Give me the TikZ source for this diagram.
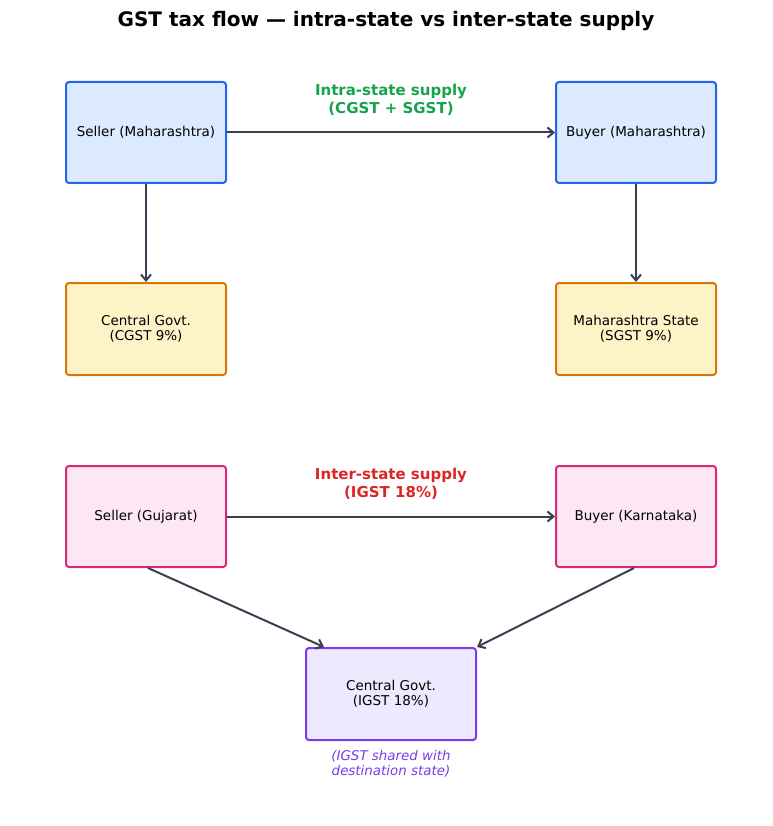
\documentclass[tikz,border=0pt]{standalone}
\usepackage{fontspec}
\setmainfont{DejaVu Sans}
\usepackage{xcolor}
\usetikzlibrary{arrows.meta,positioning,calc}

\definecolor{edgegray}{HTML}{374151}
\definecolor{blueline}{HTML}{2563EB}
\definecolor{bluefill}{HTML}{DBEAFE}
\definecolor{orangeline}{HTML}{D97706}
\definecolor{orangefill}{HTML}{FEF3C7}
\definecolor{pinkline}{HTML}{DB2777}
\definecolor{pinkfill}{HTML}{FCE7F3}
\definecolor{purpleline}{HTML}{7C3AED}
\definecolor{purplefill}{HTML}{EDE9FE}
\definecolor{greentext}{HTML}{16A34A}
\definecolor{redtext}{HTML}{DC2626}

\begin{document}
\begin{tikzpicture}[x=1pt,y=-1pt,
		box/.style={draw, rounded corners=3pt, line width=2pt, minimum width=160pt, align=center, font=\fontsize{13.5}{15.5}\selectfont},
		tall/.style={box, minimum height=101pt},
		short/.style={box, minimum height=92pt},
		flow/.style={draw=edgegray, line width=2pt, -{Straight Barb[length=6pt,width=10pt,line width=2pt]}},
		tag/.style={font=\bfseries\fontsize{15}{17.5}\selectfont, align=center}]
		\useasboundingbox (0,0) rectangle (772,826);

		\node[font=\bfseries\fontsize{20}{24}\selectfont] (title) at (386,21) {GST tax flow — intra-state vs inter-state supply};

		% intra-state
		\node[tall, draw=blueline, fill=bluefill] (sm) at (146,132.5) {Seller (Maharashtra)};
		\node[tall, draw=blueline, fill=bluefill] (bm) at (636,132.5) {Buyer (Maharashtra)};
		\node[short, draw=orangeline, fill=orangefill] (cgst) at (146,329) {Central Govt.\\(CGST 9\%)};
		\node[short, draw=orangeline, fill=orangefill] (sgst) at (636,329) {Maharashtra State\\(SGST 9\%)};
		\node[tag, text=greentext] (intra) at (391,100) {Intra-state supply\\(CGST + SGST)};

		\draw[flow] (sm) -- (bm);
		\draw[flow] (sm) -- (cgst);
		\draw[flow] (bm) -- (sgst);

		% inter-state
		\node[tall, draw=pinkline, fill=pinkfill] (sg) at (146,516.5) {Seller (Gujarat)};
		\node[tall, draw=pinkline, fill=pinkfill] (bk) at (636,516.5) {Buyer (Karnataka)};
		\node[short, draw=purpleline, fill=purplefill, minimum width=170pt] (igst) at (391,694) {Central Govt.\\(IGST 18\%)};
		\node[tag, text=redtext] (inter) at (391,484) {Inter-state supply\\(IGST 18\%)};
		\node[font=\itshape\fontsize{13.4}{15.5}\selectfont, text=purpleline, align=center] (note) at (391,764) {(IGST shared with\\destination state)};

		\draw[flow] (sg) -- (bk);
		\draw[flow] ([xshift=2pt]sg.south) -- ([xshift=19pt]igst.north west);
		\draw[flow] ([xshift=-2pt]bk.south) -- (igst.north east);
	\end{tikzpicture}
\end{document}
